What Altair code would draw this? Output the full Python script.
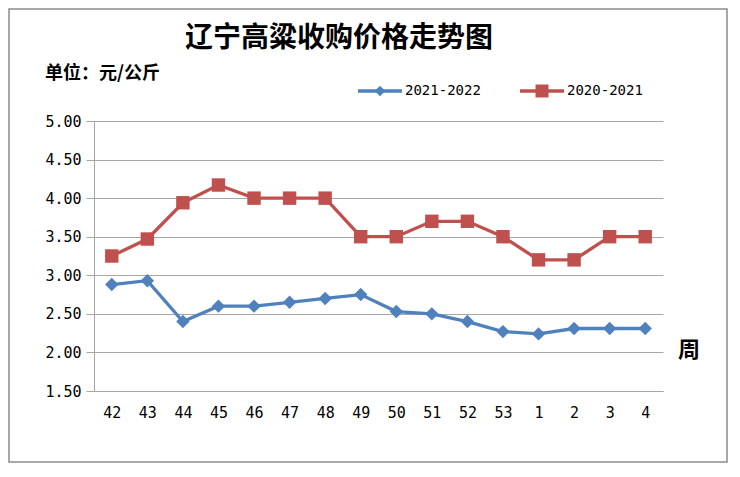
import altair as alt
import pandas as pd

weeks = ["42", "43", "44", "45", "46", "47", "48", "49", "50", "51", "52", "53", "1", "2", "3", "4"]
s_2021_2022 = [2.88, 2.93, 2.40, 2.60, 2.60, 2.65, 2.70, 2.75, 2.53, 2.50, 2.40, 2.27, 2.24, 2.31, 2.31, 2.31]
s_2020_2021 = [3.25, 3.47, 3.94, 4.17, 4.00, 4.00, 4.00, 3.50, 3.50, 3.70, 3.70, 3.50, 3.20, 3.20, 3.50, 3.50]
series_names = ["2021-2022", "2020-2021"]
series_colors = ["#4F81BD", "#C0504D"]
series_shapes = ["diamond", "square"]
y_ticks = [1.5, 2.0, 2.5, 3.0, 3.5, 4.0, 4.5, 5.0]

title_text = "辽宁高粱收购价格走势图"
unit_text = "单位：元/公斤"
x_title = "周"

df = pd.DataFrame({
    "week": weeks * 2,
    "price": s_2021_2022 + s_2020_2021,
    "series": [series_names[0]] * len(weeks) + [series_names[1]] * len(weeks),
})

GRID = "#A6A6A6"
MONO = "DejaVu Sans Mono"
CJK = "Noto Sans CJK SC"

x = alt.X(
    "week:N", sort=weeks,
    scale=alt.Scale(type="point", padding=0.5),
    axis=alt.Axis(title=None, labelAngle=0, ticks=False, domainColor=GRID, domainWidth=1,
                  labelPadding=14, labelFont=MONO, labelFontSize=15, labelColor="#000"),
)
y = alt.Y(
    "price:Q",
    scale=alt.Scale(domain=[1.5, 5.0], nice=False, zero=False),
    axis=alt.Axis(title=None, values=y_ticks, format=".2f", grid=True, gridColor=GRID, gridWidth=1,
                  tickSize=8, tickColor=GRID, domainColor=GRID, labelPadding=5,
                  labelFont=MONO, labelFontSize=15, labelColor="#000"),
)
color = alt.Color("series:N", scale=alt.Scale(domain=series_names, range=series_colors), legend=None)
shape = alt.Shape("series:N", scale=alt.Scale(domain=series_names, range=series_shapes), legend=None)

base = alt.Chart(df)
lines = base.mark_line(strokeWidth=3.3).encode(x=x, y=y, color=color, detail="series:N")
points = base.mark_point(filled=True, size=180, opacity=1).encode(x=x, y=y, color=color, shape=shape)

one = pd.DataFrame({"k": [0]})


def text_layer(txt, px, py, size, align="left", font=CJK, weight="bold"):
    return alt.Chart(one).mark_text(
        text=txt, align=align, baseline="middle", font=font, fontSize=size,
        fontWeight=weight, color="#000"
    ).encode(x=alt.value(px), y=alt.value(py))


title = text_layer(title_text, 245, -82, 28, align="center")
unit = text_layer(unit_text, -49, -47, 18)
xlab = text_layer(x_title, 595, 229, 22, align="center")

legend_layers = []
for name, col, shp, lx, sz in zip(series_names, series_colors, series_shapes, [264, 426], [110, 169]):
    legend_layers.append(
        alt.Chart(one).mark_rule(color=col, strokeWidth=3.5).encode(
            x=alt.value(lx), x2=alt.value(lx + 44), y=alt.value(-30))
    )
    legend_layers.append(
        alt.Chart(one).mark_point(filled=True, size=sz, opacity=1, color=col, shape=shp).encode(
            x=alt.value(lx + 22), y=alt.value(-30))
    )
    legend_layers.append(text_layer(name, lx + 47, -30, 14, font=MONO, weight="normal"))

border = alt.Chart(one).mark_rect(fillOpacity=0, stroke="#8C8C8C", strokeWidth=1.5).encode(
    x=alt.value(-85), x2=alt.value(633), y=alt.value(-112), y2=alt.value(341)
)

chart = alt.layer(
    border, lines, points, title, unit, xlab, *legend_layers
).properties(
    width=569, height=270,
    padding={"left": 86, "top": 113, "right": 65, "bottom": 72},
    autosize=alt.AutoSizeParams(type="none"),
    background="white",
).configure_view(stroke="transparent")

chart.save("out.html", embed_options={"renderer": "svg", "actions": False})
